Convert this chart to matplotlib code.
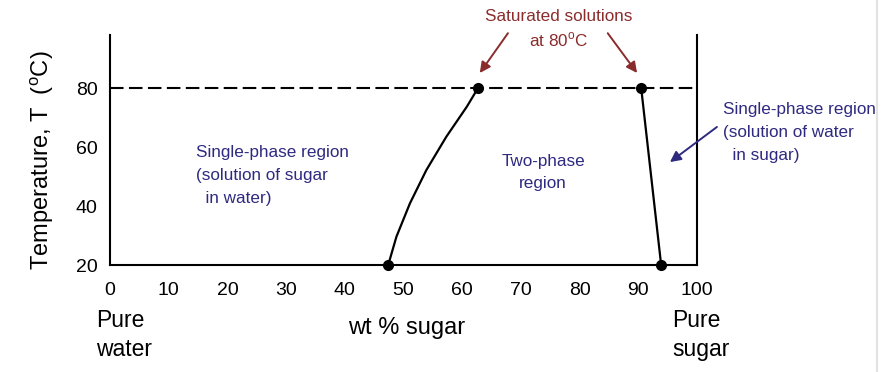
import matplotlib
matplotlib.use("Agg")
import matplotlib.pyplot as plt
from matplotlib.lines import Line2D

plt.rcParams["font.family"] = ["Liberation Sans", "DejaVu Sans"]
plt.rcParams["mathtext.fontset"] = "custom"
plt.rcParams["mathtext.rm"] = "Liberation Sans"

BLUE, RED = "#2e2a80", "#8a2c2c"

# solubility of sugar in water (left boundary)
liq_x = [47.4, 48.8, 51.1, 53.9, 57.3, 60.8, 62.7]
liq_T = [20, 29.6, 40.9, 52.2, 63.5, 73.7, 80]
# solubility of water in sugar (right boundary)
sol_x = [93.9, 90.5]
sol_T = [20, 80]
T_sat = 80
x_ticks = [0, 10, 20, 30, 40, 50, 60, 70, 80, 90, 100]
y_ticks = [20, 40, 60, 80]

fig = plt.figure(figsize=(8.82, 3.72), dpi=100)
ax = fig.add_axes([0.1247, 0.2876, 0.6655, 0.6184])
ax.set_xlim(0, 100)
ax.set_ylim(20, 98)
ax.spines["top"].set_visible(False)
for s in ("left", "right", "bottom"):
    ax.spines[s].set_linewidth(1.5)
ax.set_xticks(x_ticks)
ax.set_yticks(y_ticks)
ax.tick_params(length=0, labelsize=14)
ax.tick_params(axis="x", pad=12)
ax.tick_params(axis="y", pad=9)

ax.plot([0, 100], [T_sat, T_sat], color="black", lw=1.5, dashes=(6.5, 2.6))
ax.plot(liq_x, liq_T, color="black", lw=1.6)
ax.plot(sol_x, sol_T, color="black", lw=1.6)
ax.plot([liq_x[0], liq_x[-1], sol_x[0], sol_x[-1]],
        [liq_T[0], liq_T[-1], sol_T[0], sol_T[-1]],
        "o", color="black", ms=7, clip_on=False, zorder=5)

txt = dict(fontsize=12.3, linespacing=1.65)
ax.text(14.7, 60.7, "Single-phase region\n(solution of sugar\n  in water)", color=BLUE,
        va="top", ha="left", **txt)
ax.text(73.8, 57.8, "Two-phase\nregion", color=BLUE, va="top", ha="center", **txt)
ax.text(104.4, 75.3, "Single-phase region\n(solution of water\n  in sugar)", color=BLUE,
        va="top", ha="left", clip_on=False, **txt)
ax.annotate("", xy=(95.4, 54.9), xytext=(103.4, 66.8), annotation_clip=False,
            arrowprops=dict(arrowstyle="-|>", color=BLUE, lw=1.4, mutation_scale=16,
                            shrinkA=0, shrinkB=0))

ax.text(76.5, 106.8, "Saturated solutions\nat 80$^{\\rm o}$C", color=RED,
        va="top", ha="center", clip_on=False, fontsize=12.3, linespacing=1.45)
ax.annotate("", xy=(63.0, 85.1), xytext=(67.8, 98.6), annotation_clip=False,
            arrowprops=dict(arrowstyle="-|>", color=RED, lw=1.4, mutation_scale=16,
                            shrinkA=0, shrinkB=0))
ax.annotate("", xy=(89.8, 85.1), xytext=(84.8, 98.6), annotation_clip=False,
            arrowprops=dict(arrowstyle="-|>", color=RED, lw=1.4, mutation_scale=16,
                            shrinkA=0, shrinkB=0))

fig.text(42 / 882, 1 - 160 / 372, "Temperature, T  ($^{\\rm o}$C)", rotation=90,
         fontsize=17, ha="center", va="center")
fig.text(96 / 882, 1 - 335 / 372, "Pure\nwater", fontsize=16.5, ha="left", va="center",
         linespacing=1.3)
fig.text(407 / 882, 1 - 328 / 372, "wt % sugar", fontsize=17, ha="center", va="center")
fig.text(672 / 882, 1 - 335 / 372, "Pure\nsugar", fontsize=16.5, ha="left", va="center",
         linespacing=1.3)

fig.add_artist(Line2D([877 / 882, 877 / 882], [0, 1], color="#e2e2e2", lw=1.5,
                      transform=fig.transFigure))

fig.savefig("out.png", dpi=100)
